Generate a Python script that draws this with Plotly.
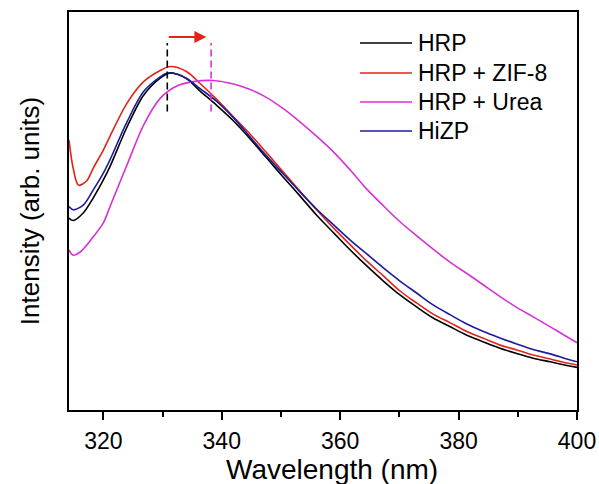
import plotly.graph_objects as go

# ---- data ----
wl_hrp = [314.2, 314.9, 316.6, 318.3, 320.0, 321.1, 324.0, 326.8, 329.6, 331.3, 332.4, 334.1, 336.3,
          339.1, 342.0, 344.8, 347.6, 350.4, 353.2, 356.0, 358.9, 361.7, 364.5, 367.3, 370.1,
          372.9, 375.7, 378.6, 381.4, 384.2, 387.0, 389.8, 392.6, 395.5, 398.3, 400.0]
i_hrp = [48.2, 47.6, 49.5, 53.3, 57.8, 61.1, 71.1, 79.1, 83.4, 84.7, 84.4, 83.2, 80.2,
         76.6, 72.6, 68.1, 63.3, 58.5, 53.8, 49.0, 44.5, 40.2, 36.2, 32.4, 28.9,
         25.9, 23.1, 20.9, 18.8, 17.1, 15.5, 14.2, 13.0, 12.1, 11.2, 10.7]

wl_zif = [314.2, 314.9, 315.8, 317.2, 318.3, 320.0, 321.1, 324.0, 326.8, 329.6, 331.3, 334.1, 336.3,
          339.1, 342.0, 344.8, 347.6, 350.4, 353.2, 356.0, 358.9, 361.7, 364.5, 367.3, 370.1,
          372.9, 375.7, 378.6, 381.4, 384.2, 387.0, 389.8, 392.6, 395.5, 398.3, 400.0]
i_zif = [67.8, 60.8, 56.5, 57.6, 60.8, 65.3, 68.7, 77.1, 82.5, 85.3, 86.3, 85.0, 82.1,
         78.1, 73.6, 69.3, 64.6, 59.8, 55.0, 50.3, 45.7, 41.5, 37.4, 33.7, 29.9,
         26.9, 24.1, 21.9, 19.7, 18.0, 16.3, 15.1, 13.8, 12.8, 11.8, 11.3]

wl_urea = [314.2, 314.9, 316.1, 318.3, 320.0, 321.1, 324.0, 326.8, 329.6, 332.4, 335.2, 338.6,
           342.0, 344.8, 347.6, 350.4, 353.2, 356.0, 358.9, 361.7, 364.5, 367.3, 370.1,
           372.9, 375.7, 378.6, 381.4, 384.2, 387.0, 389.8, 392.6, 395.5, 398.3, 400.0]
i_urea = [40.2, 38.9, 39.7, 43.5, 47.0, 51.0, 61.6, 71.6, 78.3, 81.4, 82.5, 82.8,
          81.9, 80.5, 78.5, 75.7, 72.4, 68.8, 64.8, 60.3, 55.5, 51.3, 47.3,
          43.8, 40.4, 37.1, 34.3, 31.4, 28.5, 25.8, 23.4, 20.9, 18.4, 16.9]

wl_hizp = [314.2, 314.9, 316.6, 318.3, 320.0, 321.1, 324.0, 326.8, 329.6, 330.7, 332.4, 334.1, 336.3,
           339.1, 342.0, 344.8, 347.6, 350.4, 353.2, 356.0, 358.9, 361.7, 364.5, 367.3, 370.1,
           372.9, 375.7, 378.6, 381.4, 384.2, 387.0, 389.8, 392.6, 395.5, 398.3, 400.0]
i_hizp = [51.1, 50.3, 51.5, 55.3, 59.5, 62.8, 72.4, 80.0, 83.7, 84.6, 84.4, 83.3, 80.8,
          77.6, 73.4, 68.6, 63.8, 59.3, 54.8, 50.5, 46.5, 42.7, 39.2, 35.7, 32.4,
          29.4, 26.4, 23.9, 21.6, 19.7, 18.1, 16.6, 15.2, 14.1, 12.8, 12.1]

series_names = ["HRP", "HRP + ZIF-8", "HRP + Urea", "HiZP"]
series_colors = ["#000000", "#e2231a", "#d633d6", "#1c1c9c"]

peak_hrp = 330.8
peak_urea = 338.2
peak_marker_y = [75.0, 92.2]
arrow_y = 93.7
arrow_end = 337.4

x_ticks = [320, 340, 360, 380, 400]
x_title = "Wavelength (nm)"
y_title = "Intensity (arb. units)"

FONT = "Liberation Sans, Arial"

fig = go.Figure()
for wl, inten, name, col in zip([wl_hrp, wl_zif, wl_urea, wl_hizp],
                                [i_hrp, i_zif, i_urea, i_hizp],
                                series_names, series_colors):
    fig.add_trace(go.Scatter(x=wl, y=inten, mode="lines", name=name,
                             line=dict(color=col, width=1.6, shape="spline", smoothing=0.9),
                             showlegend=False))

# dashed peak markers
fig.add_trace(go.Scatter(x=[peak_hrp, peak_hrp], y=peak_marker_y, mode="lines",
                         line=dict(color="#000000", width=1.6, dash="7px,4px"), showlegend=False))
fig.add_trace(go.Scatter(x=[peak_urea, peak_urea], y=peak_marker_y, mode="lines",
                         line=dict(color="#d633d6", width=1.6, dash="7px,4px"), showlegend=False))

fig.add_annotation(x=arrow_end, y=arrow_y, ax=peak_hrp, ay=arrow_y, axref="x", ayref="y",
                   xref="x", yref="y", showarrow=True, arrowhead=2, arrowsize=1.2,
                   arrowwidth=2, arrowcolor="#e2231a", text="")

# manual legend (paper coordinates of the plot area)
L, R, T, B = 69, 577, 12, 410
leg_x0, leg_x1, leg_tx = 360, 412, 416
leg_rows = [43, 73, 102, 131]
for name, col, yy in zip(series_names, series_colors, leg_rows):
    py = (B - yy) / (B - T)
    fig.add_shape(type="line", xref="paper", yref="paper",
                  x0=(leg_x0 - L) / (R - L), x1=(leg_x1 - L) / (R - L), y0=py, y1=py,
                  line=dict(color=col, width=1.6))
    fig.add_annotation(xref="paper", yref="paper", x=(leg_tx - L) / (R - L), y=py,
                       text=name, showarrow=False, xanchor="left", yanchor="middle",
                       font=dict(size=23, color="#000000", family=FONT))

# x-axis title, slightly right of centre as in the original
fig.add_annotation(xref="paper", yref="paper", x=(332 - L) / (R - L), y=(B - 469) / (B - T),
                   text=x_title, showarrow=False, xanchor="center", yanchor="middle",
                   font=dict(size=28, color="#000000", family=FONT))

fig.update_layout(
    width=599, height=484,
    margin=dict(l=L, r=599 - R, t=T, b=484 - B, pad=0),
    plot_bgcolor="white", paper_bgcolor="white",
    font=dict(family=FONT, color="#000000"),
    xaxis=dict(range=[314.2, 400], tickvals=x_ticks, ticks="outside", ticklen=8, tickwidth=1.5,
               tickcolor="#000", tickfont=dict(size=23), showline=True, linecolor="#000",
               linewidth=2, mirror=True, showgrid=False, zeroline=False, automargin=False,
               ticklabelstandoff=1,
               minor=dict(dtick=10, tick0=310, ticks="outside", ticklen=5, tickwidth=1.5, tickcolor="#000")),
    yaxis=dict(range=[0, 100], showticklabels=False, ticks="", showline=True, linecolor="#000",
               linewidth=2, mirror=True, showgrid=False, zeroline=False, automargin=False,
               title=dict(text=y_title, font=dict(size=26), standoff=20)),
)

fig.write_html("out.html")
